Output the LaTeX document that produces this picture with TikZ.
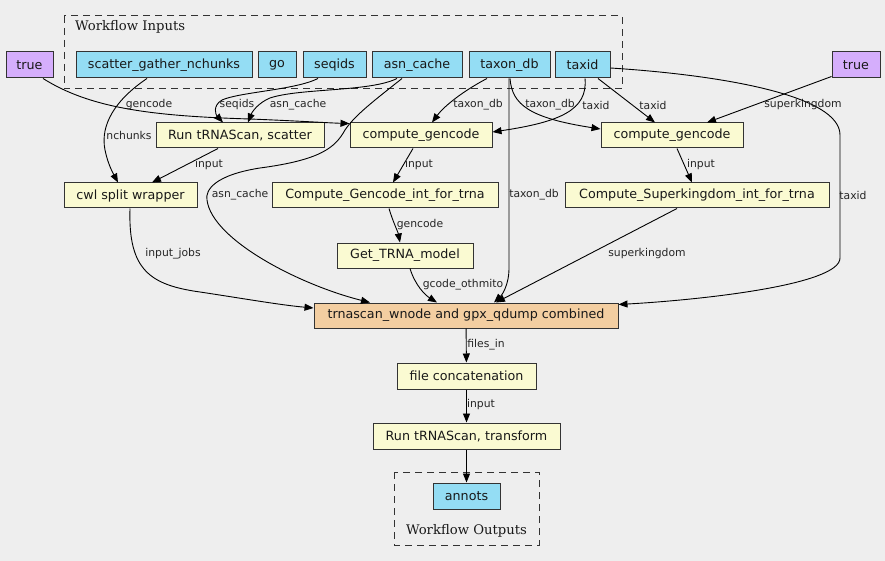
\documentclass[tikz,border=0pt]{standalone}
\usepackage{fontspec}
\setmainfont{DejaVu Sans}
\newfontfamily\clusterfont{DejaVu Serif}
\usetikzlibrary{arrows.meta}
\definecolor{bgc}{HTML}{EEEEEE}
\definecolor{inpc}{HTML}{94DDF4}
\definecolor{truec}{HTML}{D5AEFC}
\definecolor{stepc}{HTML}{FAFAD2}
\definecolor{combc}{HTML}{F3CEA1}
\definecolor{linec}{HTML}{333333}
\tikzset{
  box/.style={draw=linec, line width=1pt, rectangle, inner sep=0pt, minimum height=26pt,
     font=\fontsize{12.7}{15}\selectfont, text=black!90},
  inp/.style={box, fill=inpc},
  truebox/.style={box, fill=truec},
  stepbox/.style={box, fill=stepc, minimum height=25pt},
  combbox/.style={box, fill=combc, minimum height=25pt},
  edge/.style={draw=black, line width=0.9pt, -{Triangle[length=9pt,width=7pt]}},
  elab/.style={font=\fontsize{10.8}{13}\selectfont, inner sep=0pt, text=black!85},
  cluster/.style={draw=black!80, line width=1pt, dash pattern=on 7pt off 5pt},
  clab/.style={font=\clusterfont\fontsize{13.2}{15}\selectfont, inner sep=0pt, text=black!90}
}
\begin{document}
\begin{tikzpicture}[x=1pt,y=-1pt]
\useasboundingbox (0,0) rectangle (885,561);
\fill[bgc] (0,0) rectangle (885,561);
% clusters
\draw[cluster] (64,16) rectangle (622,89);
\node[clab, anchor=west] (cinl) at (75,27) {Workflow Inputs};
\draw[cluster] (394,472) rectangle (539,545);
\node[clab] (coutl) at (466.5,531) {Workflow Outputs};
% input nodes
\node[truebox, minimum width=47pt] (tl) at (29.5,65) {true};
\node[inp, minimum width=176pt] (sg) at (164,65) {scatter\_gather\_nchunks};
\node[inp, minimum width=38pt] (go) at (277,65) {go};
\node[inp, minimum width=63pt] (seq) at (334.5,65) {seqids};
\node[inp, minimum width=90pt] (asn) at (417,65) {asn\_cache};
\node[inp, minimum width=81pt] (tdb) at (509.5,65) {taxon\_db};
\node[inp, minimum width=55pt] (tid) at (582.5,65) {taxid};
\node[truebox, minimum width=48pt] (tr) at (856,65) {true};
% steps
\node[stepbox, minimum width=168pt] (rs) at (240,135.5) {Run tRNAScan, scatter};
\node[stepbox, minimum width=142pt] (cgl) at (421,135.5) {compute\_gencode};
\node[stepbox, minimum width=142pt] (cgr) at (672,135.5) {compute\_gencode};
\node[stepbox, minimum width=133pt] (cwl) at (130.5,195.5) {cwl split wrapper};
\node[stepbox, minimum width=226pt] (cgi) at (385,195.5) {Compute\_Gencode\_int\_for\_trna};
\node[stepbox, minimum width=264pt] (csk) at (697,195.5) {Compute\_Superkingdom\_int\_for\_trna};
\node[stepbox, minimum width=136pt] (gtm) at (405,255.5) {Get\_TRNA\_model};
\node[combbox, minimum width=304pt] (comb) at (466,315.5) {trnascan\_wnode and gpx\_qdump combined};
\node[stepbox, minimum width=139pt, minimum height=26pt] (fc) at (466.5,376) {file concatenation};
\node[stepbox, minimum width=187pt, minimum height=26pt] (rt) at (466.5,436) {Run tRNAScan, transform};
\node[inp, minimum width=67pt] (ann) at (466.5,496) {annots};
% edges
\draw[edge] ([xshift=13.5pt]tl.south) .. controls (90,108) and (150,116) .. (250,119) .. controls (300,121) and (330,123) .. ([yshift=-1pt]cgl.north west);
\draw[edge] ([xshift=-17pt]sg.south) .. controls (115,100) and (100,125) .. (105,150) .. controls (108,165) and (114,175) .. ([xshift=-12.5pt]cwl.north);
\draw[edge] ([xshift=-16.5pt]seq.south) .. controls (295,90) and (240,92) .. (222,100) .. controls (212,106) and (216,115) .. ([xshift=-17pt]rs.north);
\draw[edge] ([xshift=-20pt]asn.south) .. controls (370,92) and (300,88) .. (270,98) .. controls (258,103) and (252,112) .. ([xshift=8pt]rs.north);
\draw[edge] ([xshift=-15pt]asn.south) .. controls (375,100) and (355,115) .. (345,130) .. controls (335,148) and (320,160) .. (260,168) .. controls (215,175) and (205,190) .. (207,200) .. controls (212,240) and (300,285) .. ([xshift=-96pt]comb.north);
\draw[edge] ([xshift=-22.5pt]tdb.south) .. controls (465,90) and (445,105) .. ([xshift=11pt]cgl.north);
\draw[edge] ([xshift=0.5pt]tdb.south) .. controls (512,105) and (530,118) .. ([yshift=6.5pt]cgr.west);
\draw[edge] ([xshift=2.5pt]tid.south) .. controls (588,110) and (560,122) .. ([yshift=3.5pt]cgl.east);
\draw[edge] ([xshift=-0.5pt]tdb.south) -- (509,268) .. controls (509,285) and (502,295) .. ([xshift=28pt]comb.north);
\draw[edge] ([xshift=15.5pt]tid.south) -- ([xshift=-17pt]cgr.north);
\draw[edge] ([yshift=2pt]tr.south west) -- ([xshift=35pt]cgr.north);
\draw[edge] ([yshift=-3pt]tid.east) .. controls (720,75) and (840,95) .. (840,135) -- (840,258) .. controls (840,285) and (700,300) .. ([yshift=-2pt]comb.north east);
\draw[edge] ([xshift=-22pt]rs.south) -- ([xshift=21.5pt]cwl.north);
\draw[edge] ([xshift=-8pt]cgl.south) -- ([xshift=8pt]cgi.north);
\draw[edge] ([xshift=5pt]cgr.south) -- ([xshift=-5pt]csk.north);
\draw[edge] ([xshift=4pt]cgi.south) .. controls (393,222) and (398,232) .. ([xshift=-5pt]gtm.north);
\draw[edge] ([xshift=5pt]gtm.south) .. controls (415,285) and (425,295) .. ([xshift=-29pt]comb.north);
\draw[edge] ([xshift=-20pt]csk.south) -- ([xshift=30pt]comb.north);
\draw[edge] ([xshift=-0.5pt]cwl.south) .. controls (128,270) and (150,285) .. (200,292) .. controls (240,298) and (280,305) .. ([yshift=7.5pt]comb.west);
\draw[edge] (comb) -- (fc);
\draw[edge] (fc) -- (rt);
\draw[edge] (rt) -- (ann);
% edge labels
\node[elab] (l1) at (149,105) {gencode};
\node[elab] (l2) at (129,135) {nchunks};
\node[elab] (l3) at (237,105) {seqids};
\node[elab] (l4) at (298,105) {asn\_cache};
\node[elab] (l5) at (209,165) {input};
\node[elab] (l6) at (240,195) {asn\_cache};
\node[elab] (l7) at (173,254) {input\_jobs};
\node[elab] (l8) at (419,165) {input};
\node[elab] (l9) at (420,225) {gencode};
\node[elab] (l10) at (463,285) {gcode\_othmito};
\node[elab] (l11) at (478,105) {taxon\_db};
\node[elab] (l12) at (550,105) {taxon\_db};
\node[elab] (l13) at (596,105) {taxid};
\node[elab] (l14) at (653,105) {taxid};
\node[elab] (l15) at (803,105) {superkingdom};
\node[elab] (l16) at (701,165) {input};
\node[elab] (l17) at (534,195) {taxon\_db};
\node[elab] (l18) at (853,195) {taxid};
\node[elab] (l19) at (647,254) {superkingdom};
\node[elab] (l20) at (486,345) {files\_in};
\node[elab] (l21) at (481,405) {input};
\end{tikzpicture}
\end{document}
